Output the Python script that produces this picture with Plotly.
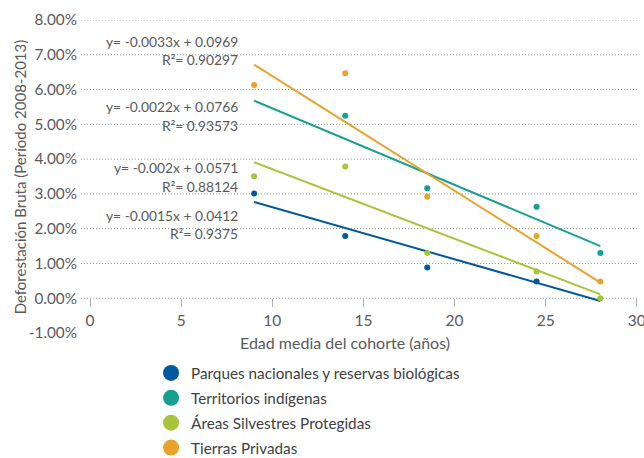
import plotly.graph_objects as go

# ---- data ----
edad = [9, 14, 18.5, 24.5, 28]
series_names = ["Parques nacionales y reservas biológicas", "Territorios indígenas",
                "Áreas Silvestres Protegidas", "Tierras Privadas"]
parques = [0.0301, 0.0179, 0.0088, 0.0048, None]
territorios = [None, 0.0525, 0.0316, 0.0263, 0.0130]
areas = [0.0351, 0.0379, 0.0130, 0.0077, 0.0000]
tierras = [0.0613, 0.0647, 0.0292, 0.0179, 0.0048]
slopes = [-0.0015, -0.0022, -0.002, -0.0033]
intercepts = [0.0412, 0.0766, 0.0571, 0.0969]
r2_labels = ["0.9375", "0.93573", "0.88124", "0.90297"]
slope_labels = ["-0.0015", "-0.0022", "-0.002", "-0.0033"]
intercept_labels = ["0.0412", "0.0766", "0.0571", "0.0969"]
y_ticks = [-0.01, 0.0, 0.01, 0.02, 0.03, 0.04, 0.05, 0.06, 0.07, 0.08]
y_ticktext = [f"{v:.2%}" for v in y_ticks]
x_ticks = [0, 5, 10, 15, 20, 25, 30]

colors = ["#00599C", "#13A08E", "#A8C43A", "#E9A22A"]
values = [parques, territorios, areas, tierras]
# label anchor positions (data y of equation line)
label_y = [0.0239, 0.0551, 0.0376, 0.0739]

FONT = "Lato"
GRAY = "#595959"

fig = go.Figure()
x_fit = [min(edad), max(edad)]
for name, vals, c, m, b in zip(series_names, values, colors, slopes, intercepts):
    fig.add_trace(go.Scatter(x=x_fit, y=[m * xv + b for xv in x_fit], mode="lines",
                             line=dict(color=c, width=2), showlegend=False, hoverinfo="skip"))
    fig.add_trace(go.Scatter(x=edad, y=vals, mode="markers",
                             marker=dict(color=c, size=6), showlegend=False))

for i, (name, c) in enumerate(zip(series_names, colors)):
    fig.add_trace(go.Scatter(x=[None], y=[None], mode="markers", name=name,
                             marker=dict(color=c, size=16), legendgroup=str(i)))

shapes = []
for t in y_ticks:
    if t < 0:
        continue
    shapes.append(dict(type="line", xref="paper", x0=0, x1=1, yref="y", y0=t, y1=t,
                       line=dict(color="#9A9A9A", width=1, dash="1px,2px"), layer="below"))

annotations = []
for sl, ic, r2, ly in zip(slope_labels, intercept_labels, r2_labels, label_y):
    annotations.append(dict(x=8.2, y=ly, xref="x", yref="y", xanchor="right", yanchor="middle",
                            text=f"y= {sl}x + {ic}", showarrow=False,
                            font=dict(family=FONT, size=13.8, color=GRAY)))
    annotations.append(dict(x=8.2, y=ly - 0.0054, xref="x", yref="y", xanchor="right", yanchor="middle",
                            text=f"R²= {r2}", showarrow=False,
                            font=dict(family=FONT, size=13.8, color=GRAY)))
annotations.append(dict(x=0.475, y=-0.029, xref="paper", yref="paper", xanchor="center", yanchor="middle",
                        text="Edad media del cohorte (años)", showarrow=False,
                        font=dict(family=FONT, size=16, color=GRAY)))
annotations.append(dict(x=-0.11, y=0.5, xref="paper", yref="paper", xanchor="center", yanchor="middle",
                        text="Deforestación Bruta (Período 2008-2013)", showarrow=False, textangle=-90,
                        font=dict(family=FONT, size=15, color=GRAY)))

fig.update_layout(
    width=644, height=458,
    margin=dict(l=81, r=7, t=20, b=125, autoexpand=False),
    plot_bgcolor="white", paper_bgcolor="white",
    font=dict(family=FONT, size=15, color=GRAY),
    shapes=shapes, annotations=annotations,
    xaxis=dict(range=[-0.5, 30.01], tickvals=x_ticks, showgrid=False, zeroline=False,
               anchor="free", position=0.1111, ticks="outside", ticklen=8, tickcolor="#B0B0B0",
               showline=False, automargin=False, ticklabeloverflow="allow",
               tickfont=dict(family=FONT, size=15.5, color=GRAY)),
    yaxis=dict(range=[-0.01, 0.08], tickvals=y_ticks, ticktext=y_ticktext, showgrid=False,
               zeroline=False, showline=False, ticks="", ticklabelstandoff=3, automargin=False,
               tickfont=dict(family=FONT, size=15.3, color=GRAY)),
    legend=dict(x=0.126, y=-0.075, xanchor="left", yanchor="top", orientation="v",
                font=dict(family=FONT, size=15.3, color="#404040"), tracegroupgap=2,
                bgcolor="rgba(0,0,0,0)"),
    showlegend=True,
)

fig.write_html("out.html", config={"displayModeBar": False},
               post_script="document.body.style.margin='0';")
